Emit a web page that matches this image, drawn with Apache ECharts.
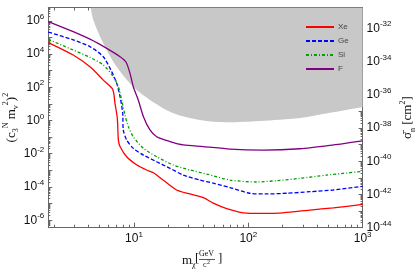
<!DOCTYPE html>
<html><head><meta charset="utf-8">
<script src="https://cdn.jsdelivr.net/npm/echarts@6/dist/echarts.min.js"></script>
<style>html,body{margin:0;padding:0;background:#fff}#c{width:417px;height:273px}</style>
</head><body><div id="c"></div>
<script>
// Xe
const massXe=[1.78,2.94,4.12,5.39,6.51,6.82,7.15,7.30,7.55,8.63,10.6,12.9,14.8,18.0,23.6,30.9,40.4,49.4,64.7,90.4,135,202,347,555,1000];
const valXe=[4.9e4,8.7e3,1.7e3,270,76,10.7,1.35,0.068,0.0275,6.6e-3,2.1e-3,1.05e-3,7.2e-4,2.6e-4,6.6e-5,3.8e-5,2.3e-5,1.07e-5,5.0e-6,2.8e-6,2.6e-6,2.8e-6,4.1e-6,5.6e-6,8.9e-6];
// Ge
const massGe=[1.78,2.94,4.12,5.39,6.38,7.06,7.55,7.97,8.06,8.63,9.86,12.1,15.8,20.7,27.0,37.8,49.4,69.2,103,145,217,347,555,1000];
const valGe=[2.1e5,7.1e4,2.8e4,6.9e3,870,174,27.5,2.7,0.27,0.068,0.021,8.3e-3,3.3e-3,1.32e-3,5.2e-4,2.6e-4,1.7e-4,9.3e-5,4.2e-5,3.8e-5,4.2e-5,5.2e-5,6.6e-5,1.1e-4];
// Si
const massSi=[1.78,2.94,4.12,5.39,6.59,7.30,7.80,8.34,8.92,9.86,12.1,15.8,22.1,30.9,43.3,69.2,119,177,283,485,1000];
const valSi=[7.6e4,1.74e4,6.3e3,2.2e3,440,107,17,2.1,0.43,0.105,0.021,6.6e-3,2.1e-3,1.05e-3,6.0e-4,2.6e-4,2.0e-4,2.4e-4,3.3e-4,5.2e-4,8.7e-4];
// F
const massF=[1.78,2.94,4.12,5.77,7.55,8.51,9.23,9.86,10.9,12.1,13.8,15.8,20.7,27.0,40.4,69.2,134,283,519,1000];
const valF=[8.9e5,2.2e5,7.8e4,2.2e4,6.9e3,3.3e3,690,107,17,1.7,0.27,0.105,0.054,0.034,0.027,0.019,0.0166,0.020,0.032,0.060];
// excluded (grey) region boundary
const massExcl=[4.18,4.41,5.38,7.06,9.86,13.8,22.1,37.8,65.2,126,283,519,1000];
const valExcl=[6.3e6,1.1e6,4.5e4,1.7e3,107,17,2.7,1.07,0.78,0.93,1.4,2.9,6.5];

const seriesNames=['Xe','Ge','Si','F'];
const xRange=[1.78,1000];
const yLeftRange=[3.55e-7,6.3e6];
// right axis: sigma_n in cm^2 (1e-44 .. 1.78e-31), drawn on a log scale in units of 1e-44 cm^2
const sigmaUnitExp=-44;
const yRightRange=[1,1.78e13];

// tick labels
const xLabelTicks=[10,100,1000];
const yLeftLabelTicks=[1e-6,1e-4,1e-2,1,1e2,1e4,1e6];
const yRightLabelExps=[-44,-42,-40,-38,-36,-34,-32];

function decadeTicks(lo,hi){const out=[];for(let e=Math.floor(Math.log10(lo));e<=Math.ceil(Math.log10(hi));e++){const v=Math.pow(10,e);if(v>=lo&&v<=hi)out.push(v);}return out;}
function minorTicks(lo,hi){const out=[];for(let e=Math.floor(Math.log10(lo));e<=Math.ceil(Math.log10(hi));e++){for(let k=2;k<=9;k++){const v=k*Math.pow(10,e);if(v>lo&&v<hi)out.push(v);}}return out;}

function pairs(a,b){return a.map((m,i)=>[m,b[i]]);}
function powLabel(shift){
  return function(v){
    const e=Math.round(Math.log10(v))+shift;
    return '{b|10}{s|'+e+'}';
  };
}
const labRich={
  b:{fontSize:12,fontFamily:'Liberation Sans',color:'#111',lineHeight:16},
  s:{fontSize:8,fontFamily:'Liberation Sans',color:'#111',verticalAlign:'top',lineHeight:10}
};
const axCol='#666';
const serif='Liberation Serif';
const nameRich={sub:{fontFamily:serif,fontSize:8,verticalAlign:'bottom',lineHeight:10},
                sup:{fontFamily:serif,fontSize:8,verticalAlign:'top',lineHeight:10}};

function xAx(pos,ticks,len,showLine,labels){
  return {type:'log',position:pos,min:xRange[0],max:xRange[1],
    axisLine:{show:showLine,lineStyle:{color:axCol}},
    axisTick:{inside:true,length:len,customValues:ticks,lineStyle:{color:axCol}},
    splitLine:{show:false},
    axisLabel:labels?{customValues:xLabelTicks,formatter:powLabel(0),rich:labRich,margin:3}:{show:false}};
}
function yAx(pos,range,ticks,len,showLine,labels,shift){
  return {type:'log',position:pos,min:range[0],max:range[1],
    axisLine:{show:showLine,lineStyle:{color:axCol}},
    axisTick:{inside:true,length:len,customValues:ticks,lineStyle:{color:axCol}},
    splitLine:{show:false},
    axisLabel:labels?{customValues:labels,formatter:powLabel(shift),rich:labRich,margin:4}:{show:false}};
}

const chart=echarts.init(document.getElementById('c'),null,{renderer:'canvas'});
const lineBase={type:'line',symbol:'none',smooth:0.25,xAxisIndex:0,yAxisIndex:0,z:3};
const yLeft=yAx('left',yLeftRange,decadeTicks(yLeftRange[0],yLeftRange[1]),4,true,yLeftLabelTicks,0);
Object.assign(yLeft,{name:'(c{sub|3}{sup|N} m{sub|v}{sup|2}){sup|2}',nameLocation:'middle',nameGap:28,nameRotate:90,nameMoveOverlap:false,
  nameTextStyle:{fontFamily:serif,fontSize:13,color:'#111',lineHeight:18,rich:nameRich}});
const yRight=yAx('right',yRightRange,decadeTicks(yRightRange[0],yRightRange[1]),4,true,
  yRightLabelExps.map(e=>Math.pow(10,e-sigmaUnitExp)),sigmaUnitExp);
Object.assign(yRight,{name:'σ̄{sub|n} [cm{sup|2}]',nameLocation:'middle',nameGap:36,nameRotate:90,nameMoveOverlap:false,
  nameTextStyle:{fontFamily:serif,fontSize:13,color:'#111',lineHeight:18,rich:nameRich}});

chart.setOption({
  animation:false,
  backgroundColor:'#fff',
  grid:{left:48.3,right:54.4,top:7.5,bottom:45.3,containLabel:false,outerBoundsMode:'none'},
  legend:{
    data:seriesNames,orient:'vertical',left:305,top:23,
    itemWidth:28,itemHeight:8,itemGap:6,padding:0,
    itemStyle:{opacity:0},
    textStyle:{fontSize:8,color:'#444',fontFamily:'Liberation Sans',padding:[0,0,0,-1]}
  },
  xAxis:[
    xAx('bottom',xLabelTicks,5,true,true),
    xAx('top',xLabelTicks,5,true,false),
    xAx('bottom',minorTicks(xRange[0],xRange[1]),3,false,false),
    xAx('top',minorTicks(xRange[0],xRange[1]),3,false,false)
  ],
  yAxis:[
    yLeft,yRight,
    yAx('left',yLeftRange,minorTicks(yLeftRange[0],yLeftRange[1]),2,false,null,0),
    yAx('right',yRightRange,minorTicks(yRightRange[0],yRightRange[1]),2,false,null,0)
  ],
  graphic:[{
    type:'group',left:182,top:250,
    children:[
      {type:'text',x:0,y:4,style:{text:'m',font:'13px "Liberation Serif"',fill:'#111'}},
      {type:'text',x:10,y:11,style:{text:'χ',font:'8px "Liberation Serif"',fill:'#111'}},
      {type:'text',x:13,y:2,style:{text:'[',font:'13px "Liberation Serif"',fill:'#111'}},
      {type:'text',x:17,y:0,style:{text:'GeV',font:'8px "Liberation Serif"',fill:'#111'}},
      {type:'line',shape:{x1:17,y1:9.5,x2:33,y2:9.5},style:{stroke:'#111',lineWidth:0.7}},
      {type:'text',x:21,y:11,style:{text:'c',font:'8px "Liberation Serif"',fill:'#111'}},
      {type:'text',x:25,y:9,style:{text:'2',font:'6px "Liberation Serif"',fill:'#111'}},
      {type:'text',x:36,y:2,style:{text:']',font:'13px "Liberation Serif"',fill:'#111'}}
    ]
  }],
  series:[
    {type:'line',name:'excl',symbol:'none',smooth:0.3,silent:true,z:1,
     data:pairs(massExcl,valExcl),lineStyle:{width:0},
     areaStyle:{color:'#c8c8c8',opacity:1,origin:'end'}},
    Object.assign({},lineBase,{name:'Xe',data:pairs(massXe,valXe),itemStyle:{color:'#ff0000'},lineStyle:{color:'#ff0000',width:1.3}}),
    Object.assign({},lineBase,{name:'Ge',data:pairs(massGe,valGe),itemStyle:{color:'#0000ff'},lineStyle:{color:'#0000ff',width:1.3,type:[4,2]}}),
    Object.assign({},lineBase,{name:'Si',data:pairs(massSi,valSi),itemStyle:{color:'#00a000'},lineStyle:{color:'#00a000',width:1.3,type:[3,2,1,2]}}),
    Object.assign({},lineBase,{name:'F',data:pairs(massF,valF),itemStyle:{color:'#800080'},lineStyle:{color:'#800080',width:1.3}})
  ]
});
</script></body></html>
